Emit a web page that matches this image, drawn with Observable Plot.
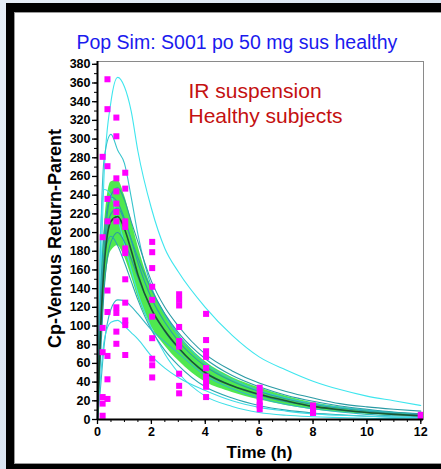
<!DOCTYPE html>
<html><head><meta charset="utf-8">
<script src="https://cdn.jsdelivr.net/npm/d3@7"></script>
<script src="https://cdn.jsdelivr.net/npm/@observablehq/plot@0.6"></script>
<style>
html,body{margin:0;padding:0;width:441px;height:469px;overflow:hidden;}
body{background:linear-gradient(135deg,#e6eef7,#cfdcec);position:relative;font-family:Arial,"Liberation Sans",sans-serif;}
#frameOuter{position:absolute;left:6px;top:3px;width:500px;height:500px;background:#000;}
#frameInner{position:absolute;left:14px;top:12px;width:440px;height:450px;background:#fff;border:1px solid #9a9a9a;}
#chart{position:absolute;left:0;top:0;}
</style></head><body>
<div id="frameOuter"></div><div id="frameInner"></div><div id="chart"></div>
<script>
// ---- data ----
const titleText = "Pop Sim: S001 po 50 mg sus healthy";
const noteText = "IR suspension\nHealthy subjects";
const xLabel = "Time (h)";
const yLabel = "Cp-Venous Return-Parent";

const simTimes  = [0, 0.1, 0.25, 0.5, 0.75, 1, 1.25, 1.5, 2, 2.5, 3, 4, 5, 6, 7, 8, 9, 10, 11, 12];
const meanConc  = [0, 85, 165, 212, 217, 204, 181, 155, 118, 95, 77, 50, 36, 27, 20, 14, 10.5, 7.5, 5.5, 4];
const upperConc = [0, 115, 205, 254, 256, 240, 214, 186, 142, 114, 92, 62, 45, 34, 25, 18, 13.5, 10, 7.5, 5.5];
const lowerConc = [0, 55, 130, 180, 186, 174, 154, 131, 99, 79, 63, 40, 29, 21, 15, 10.5, 7.5, 5.5, 4, 2.8];

const sim1  = [0, 120, 265, 340, 366, 356, 330, 287, 226, 183, 158, 120, 90, 67, 53, 41, 32, 25, 20, 15];
const sim2  = [0, 170, 280, 305, 288, 274, 238, 198, 142, 112, 90, 60, 43, 31, 23, 17, 13, 10, 7.5, 6];
const sim3  = [0, 190, 246, 240, 215, 188, 160, 135, 98, 70, 50, 25, 14, 7.5, 4.5, 3, 2, 1.3, 0.9, 0.6];
const sim4  = [0, 120, 200, 238, 232, 215, 192, 168, 130, 104, 84, 57, 41, 30, 22, 16, 12, 9, 6.5, 5];
const sim5  = [0, 90, 175, 220, 226, 213, 193, 173, 139, 113, 93, 65, 47, 35, 26, 19.5, 14.5, 11, 8, 6];
const sim6  = [0, 60, 140, 190, 200, 190, 172, 152, 118, 94, 76, 51, 36, 26, 19, 14, 10, 7.5, 5.5, 4];
const sim7  = [0, 110, 175, 196, 186, 168, 148, 128, 96, 74, 58, 35, 23, 15, 10, 7, 5, 3.5, 2.5, 1.8];
const sim8  = [0, 30, 80, 118, 128, 127, 121, 113, 96, 83, 71, 47, 33, 23, 16, 11.5, 8, 5.5, 4, 3];
const sim9  = [0, 40, 85, 104, 106, 100, 93, 86, 68, 55, 45, 31, 20, 13, 9, 6, 4.5, 3.5, 2.5, 2];
const sim10 = [0, 80, 180, 240, 248, 235, 212, 190, 148, 120, 100, 70, 52, 39, 30, 23, 17, 13.5, 11, 9];

const obsTimes = [0.19, 0.37, 0.7, 1.03, 2.03, 3.03, 4.03, 6.02, 8, 12];
const obsT019 = [281, 195, 98, 72, 24, 17, 4];
const obsT037 = [364, 332, 271, 236, 212, 138, 115, 68, 43, 22];
const obsT070 = [323, 303, 258, 244, 231, 222, 212, 120, 114, 94, 81];
const obsT103 = [264, 247, 212, 206, 183, 178, 150, 125, 106, 101, 69];
const obsT203 = [190, 179, 162, 142, 128, 110, 87, 65, 58, 45];
const obsT303 = [134, 128, 122, 99, 84, 78, 49, 36, 28];
const obsT403 = [113, 85, 73, 67, 55, 46, 40, 35, 24];
const obsT602 = [34, 29, 24, 19, 15, 11];
const obsT800 = [15, 11, 7];
const obsT1200 = [5, 3];

const xTicks = [0, 2, 4, 6, 8, 10, 12];
const yTicks = [0, 20, 40, 60, 80, 100, 120, 140, 160, 180, 200, 220, 240, 260, 280, 300, 320, 340, 360, 380];

// ---- tables ----
const band = simTimes.map((t, i) => ({t, lo: lowerConc[i], hi: upperConc[i], mean: meanConc[i]}));
const sims = [sim1, sim2, sim3, sim4, sim5, sim6, sim7, sim8, sim9, sim10];
const simColors = ["#3fe6ee", "#36c4cc", "#3fe0e8", "#2a9ea8", "#2a9ea8", "#2b98a2", "#2aa6ae", "#34b8c2", "#40dce6", "#2a9aa4"];
const obsGroups = [obsT019, obsT037, obsT070, obsT103, obsT203, obsT303, obsT403, obsT602, obsT800, obsT1200];
const obs = obsGroups.flatMap((g, i) => g.map(c => ({t: obsTimes[i], c})));
const xMinor = d3.range(0, 12.01, 0.5);
const yMinor = d3.range(0, 381, 10);

const font = "Arial, 'Liberation Sans', sans-serif";

const chart = Plot.plot({
  width: 441,
  height: 469,
  marginLeft: 97,
  marginRight: 18,
  marginTop: 61,
  marginBottom: 50,
  style: {fontFamily: font, background: "transparent", overflow: "visible"},
  x: {domain: [0, 12.1]},
  y: {domain: [0, 383]},
  marks: [
    Plot.areaY(band, {x: "t", y1: "lo", y2: "hi", fill: "#4fe84f", curve: "monotone-x"}),
    ...sims.map((s, k) => Plot.lineY(simTimes.map((t, i) => ({t, c: s[i]})),
      {x: "t", y: "c", stroke: simColors[k], strokeWidth: 1.1, curve: "monotone-x"})),
    Plot.lineY(band, {x: "t", y: "mean", stroke: "#1b5533", strokeWidth: 1.6, curve: "monotone-x"}),
    Plot.dot(obs, {x: "t", y: "c", symbol: "square", r: 3.4, fill: "#ff00ff", stroke: null}),
    Plot.frame({stroke: "#8a8a8a"}),
    Plot.axisY(yMinor, {tickSize: 3, tickFormat: () => "", label: null, stroke: "black"}),
    Plot.axisY(yTicks, {tickSize: 5, tickPadding: 2, fontSize: 12.5, fontWeight: "bold", color: "black", stroke: "black", strokeWidth: 1.3, label: null}),
    Plot.axisX(xMinor, {tickSize: 3, tickFormat: () => "", label: null, stroke: "black"}),
    Plot.axisX(xTicks, {tickSize: 5, tickPadding: 3, fontSize: 12.5, fontWeight: "bold", color: "black", stroke: "black", strokeWidth: 1.3, label: null}),
    Plot.ruleX([0], {stroke: "black", strokeWidth: 2}),
    Plot.ruleY([0], {stroke: "black", strokeWidth: 2}),
    Plot.text([titleText], {text: d => d, frameAnchor: "top-left", textAnchor: "start", lineAnchor: "bottom", dx: -21, dy: -13, fontSize: 19.5, fill: "#1a1aee"}),
    Plot.text([noteText], {text: d => d, frameAnchor: "top-left", textAnchor: "start", lineAnchor: "top", dx: 91, dy: 19, fontSize: 21, lineHeight: 1.19, fill: "#c41010"}),
    Plot.text([yLabel], {text: d => d, frameAnchor: "left", textAnchor: "middle", lineAnchor: "middle", rotate: -90, dx: -42, dy: -2, fontSize: 18, fontWeight: "bold", fill: "black"}),
    Plot.text([xLabel], {text: d => d, frameAnchor: "bottom", lineAnchor: "bottom", dx: -1, dy: 38, fontSize: 17, fontWeight: "bold", fill: "black"})
  ]
});
document.getElementById("chart").appendChild(chart);
</script>
</body></html>
